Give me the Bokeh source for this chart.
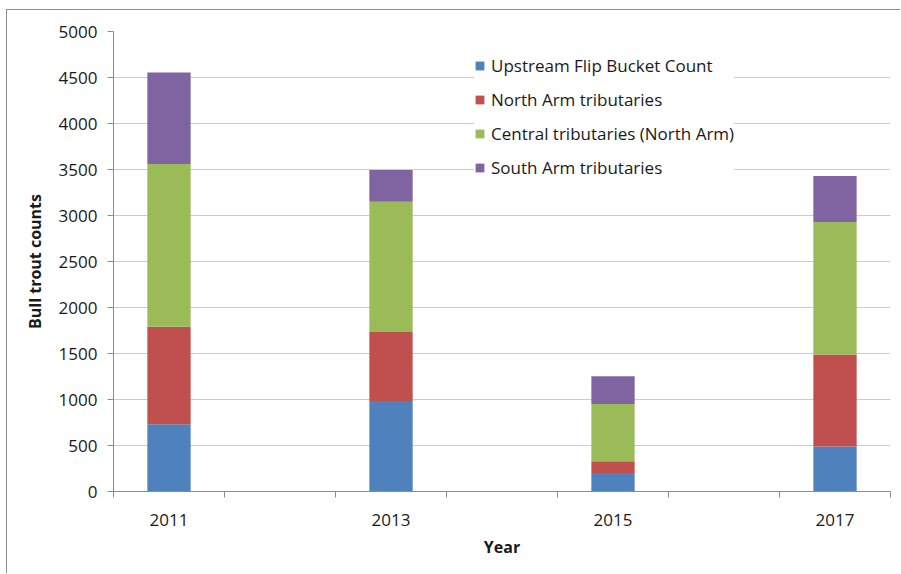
from bokeh.plotting import figure
from bokeh.models import Range1d, FixedTicker, SingleIntervalTicker, ColumnDataSource
from bokeh.embed import file_html
from bokeh.resources import INLINE

# ---- data ----
years = [2011, 2013, 2015, 2017]
upstream_flip_bucket = [730, 985, 200, 490]
north_arm = [1060, 750, 130, 1000]
central_north_arm = [1770, 1415, 622, 1440]
south_arm = [995, 345, 300, 500]

series_names = ["Upstream Flip Bucket Count", "North Arm tributaries",
                "Central tributaries (North Arm)", "South Arm tributaries"]
series_keys = ["up", "north", "central", "south"]
colors = ["#4F81BD", "#C0504D", "#9BBB59", "#8064A2"]

x_tick_labels = [2011, 2013, 2015, 2017]
category_edges = [2010.5, 2011.5, 2012.5, 2013.5, 2014.5, 2015.5, 2016.5, 2017.5]

source = ColumnDataSource(dict(year=years, up=upstream_flip_bucket, north=north_arm,
                               central=central_north_arm, south=south_arm))

FONT = "Open Sans"
GRAY = "#8c8c8c"

p = figure(width=894, height=564, output_backend="svg", toolbar_location=None,
           x_range=Range1d(2010.5, 2017.5), y_range=Range1d(0, 5000),
           min_border_left=106, min_border_top=21, min_border_right=11, min_border_bottom=83)
p.styles = {"margin-left": "6px", "margin-top": "9px",
            "border-left": "1px solid #8c8c8c", "border-top": "1px solid #8c8c8c"}
p.outline_line_color = None
p.background_fill_color = "white"
p.border_fill_color = "white"

p.vbar_stack(series_keys, x="year", width=0.39, color=colors, source=source,
             legend_label=series_names, line_color=None)

# grid
p.xgrid.grid_line_color = None
p.ygrid.grid_line_color = "#cccccc"
p.ygrid.grid_line_width = 1

# y axis
p.yaxis.ticker = SingleIntervalTicker(interval=500)
p.yaxis.axis_line_color = GRAY
p.yaxis.major_tick_line_color = GRAY
p.yaxis.major_tick_in = 0
p.yaxis.major_tick_out = 6
p.yaxis.minor_tick_line_color = None
p.yaxis.major_label_standoff = 10
p.yaxis.major_label_text_font = FONT
p.yaxis.major_label_text_font_size = "17px"
p.yaxis.major_label_text_color = "#1a1a1a"
p.yaxis.axis_label = "Bull trout counts"
p.yaxis.axis_label_text_font = FONT
p.yaxis.axis_label_text_font_style = "bold"
p.yaxis.axis_label_text_font_size = "16px"
p.yaxis.axis_label_text_color = "#1a1a1a"
p.yaxis.axis_label_standoff = 10

# x axis
p.xaxis.ticker = FixedTicker(ticks=x_tick_labels, minor_ticks=category_edges)
p.xaxis.axis_line_color = GRAY
p.xaxis.major_tick_line_color = None
p.xaxis.major_tick_in = 0
p.xaxis.major_tick_out = 0
p.xaxis.minor_tick_line_color = GRAY
p.xaxis.minor_tick_in = 0
p.xaxis.minor_tick_out = 6
p.xaxis.major_label_standoff = 16
p.xaxis.major_label_text_font = FONT
p.xaxis.major_label_text_font_size = "17px"
p.xaxis.major_label_text_color = "#1a1a1a"
p.xaxis.axis_label = "Year"
p.xaxis.axis_label_text_font = FONT
p.xaxis.axis_label_text_font_style = "bold"
p.xaxis.axis_label_text_font_size = "16px"
p.xaxis.axis_label_text_color = "#1a1a1a"
p.xaxis.axis_label_standoff = 7

# legend
lg = p.legend[0]
lg.location = (361, 312)
lg.padding = 15
lg.margin = 0
lg.border_line_color = None
lg.background_fill_color = "white"
lg.background_fill_alpha = 1.0
lg.glyph_width = 11
lg.glyph_height = 11
lg.label_height = 20
lg.spacing = 11
lg.label_standoff = 6
lg.label_text_font = FONT
lg.label_text_font_size = "17px"
lg.label_text_color = "#1a1a1a"

open("out.html", "w").write(file_html(p, INLINE))
